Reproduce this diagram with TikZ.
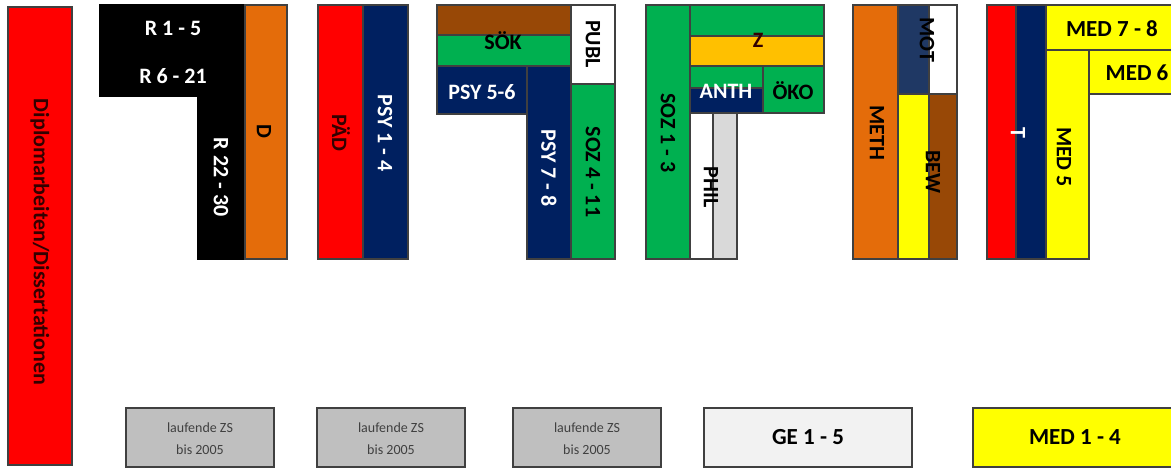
\documentclass[tikz,border=0pt]{standalone}
\usepackage{fontspec}
\setmainfont{Carlito}
\usetikzlibrary{positioning}

\definecolor{shelfred}{RGB}{255,0,0}
\definecolor{shelforange}{RGB}{228,108,10}
\definecolor{shelfnavy}{RGB}{0,32,96}
\definecolor{shelfslate}{RGB}{31,56,100}
\definecolor{shelfbrown}{RGB}{152,72,6}
\definecolor{shelfgreen}{RGB}{0,176,80}
\definecolor{shelfgold}{RGB}{255,192,0}
\definecolor{shelfyellow}{RGB}{255,255,0}
\definecolor{shelfgrey}{RGB}{217,217,217}
\definecolor{zsgrey}{RGB}{191,191,191}
\definecolor{gelight}{RGB}{242,242,242}
\definecolor{darkink}{RGB}{50,0,0}

\begin{document}
\begin{tikzpicture}[
    x=0.5pt, y=-0.5pt,
    % Styles
    shelf/.style={draw=black!75, line width=0.7pt},
    lbl/.style={font=\fontsize{11}{13}\selectfont\bfseries, text=black, inner sep=0pt},
    wlbl/.style={lbl, text=white},
    vert/.style={rotate=-90},
    medlbl/.style={lbl, font=\fontsize{11.5}{13}\selectfont\bfseries},
    zslbl/.style={font=\fontsize{7}{11}\selectfont, text=black!75, align=center, inner sep=0pt}
  ]
    \clip (0,0) rectangle (1171,469);

    % --- Diplomarbeiten ---
    \draw[shelf, fill=shelfred] (8,7) rectangle (72,465);
    \node (dipl) [lbl, vert, text=darkink] at (40,242) {Diplomarbeiten/Dissertationen};

    % --- R and D ---
    \draw[shelf, draw=black, fill=black] (100,5) -- (245,5) -- (245,259) -- (198,259)
        -- (198,96) -- (100,96) -- cycle;
    \draw[shelf, fill=shelforange] (245,5) rectangle (287,259);
    \node (r1) [wlbl] at (173,28) {R 1 - 5};
    \node (r6) [wlbl] at (173,76) {R 6 - 21};
    \node (r22) [wlbl, vert] at (221,177) {R 22 - 30};
    \node (d) [lbl, vert] at (264,131) {D};

    % --- PAED and PSY 1-4 ---
    \draw[shelf, fill=shelfred] (318,5) rectangle (363,259);
    \draw[shelf, fill=shelfnavy] (363,5) rectangle (408,259);
    \node (paed) [lbl, vert, text=darkink] at (341,133) {PÄD};
    \node (psy1) [wlbl, vert] at (385,133) {PSY 1 - 4};

    % --- SOEK, PUBL, PSY 5-8, SOZ 4-11 ---
    \draw[shelf, fill=shelfbrown] (437,5) rectangle (571,35);
    \draw[shelf, fill=shelfgreen] (437,35) rectangle (571,66);
    \draw[shelf, fill=white] (571,5) rectangle (615,84);
    \draw[shelf, fill=shelfnavy] (437,66) rectangle (527,114);
    \draw[shelf, fill=shelfnavy] (527,66) rectangle (571,259);
    \draw[shelf, fill=shelfgreen] (571,84) rectangle (615,259);
    \node (soek) [lbl] at (503,41) {SÖK};
    \node (publ) [lbl, vert] at (593,44) {PUBL};
    \node (psy5) [wlbl] at (482,92) {PSY 5-6};
    \node (psy7) [wlbl, vert] at (549,168) {PSY 7 - 8};
    \node (soz4) [lbl, vert] at (593,172) {SOZ 4 - 11};

    % --- SOZ 1-3, Z, ANTH, OEKO, PHIL ---
    \draw[shelf, fill=shelfgreen] (646,5) rectangle (690,259);
    \draw[shelf, fill=shelfgreen] (690,5) rectangle (824,36);
    \draw[shelf, fill=shelfgold] (690,36) rectangle (824,66);
    \draw[shelf, fill=shelfgreen] (690,66) rectangle (763,88);
    \draw[shelf, fill=shelfnavy] (690,88) rectangle (763,113);
    \draw[shelf, fill=shelfgreen] (763,66) rectangle (824,113);
    \draw[shelf, fill=white] (690,113) rectangle (713,259);
    \draw[shelf, fill=shelfgrey] (713,113) rectangle (737,259);
    \node (soz1) [lbl, vert] at (668,133) {SOZ 1 - 3};
    \node (z) [lbl, text=darkink] at (758,40) {Z};
    \node (anth) [wlbl] at (726,91) {ANTH};
    \node (oeko) [lbl] at (793,91) {ÖKO};
    \node (phil) [lbl, vert] at (711,187) {PHIL};

    % --- METH, MOT, BEW ---
    \draw[shelf, fill=shelforange] (853,5) rectangle (898,259);
    \draw[shelf, fill=shelfslate] (898,5) rectangle (929,94);
    \draw[shelf, fill=white] (929,5) rectangle (957,94);
    \draw[shelf, fill=shelfyellow] (898,94) rectangle (929,259);
    \draw[shelf, fill=shelfbrown] (929,94) rectangle (957,259);
    \node (meth) [lbl, vert] at (877,133) {METH};
    \node (mot) [lbl, vert] at (927,40) {MOT};
    \node (bew) [lbl, vert] at (933,172) {BEW};

    % --- T and MED 5-8 ---
    \draw[shelf, fill=shelfred] (987,5) rectangle (1016,259);
    \draw[shelf, fill=shelfnavy] (1016,5) rectangle (1046,259);
    \draw[shelf, fill=shelfyellow] (1046,5) rectangle (1180,50);
    \draw[shelf, fill=shelfyellow] (1089,50) rectangle (1180,94);
    \draw[shelf, fill=shelfyellow] (1046,50) rectangle (1089,259);
    \node (t) [wlbl, vert] at (1018,133) {T};
    \node (med7) [medlbl] at (1112,29) {MED 7 - 8};
    \node (med6) [medlbl] at (1137,73) {MED 6};
    \node (med5) [lbl, vert] at (1064,157) {MED 5};

    % --- Bottom row ---
    \foreach \xa/\name in {126/zsa, 317/zsb, 513/zsc} {
        \draw[shelf, fill=zsgrey] (\xa,408) rectangle ++(148,59);
        \node (\name) [zslbl] at (\xa+74,439) {laufende ZS\\bis 2005};
    }
    \draw[shelf, fill=gelight] (704,408) rectangle (912,467);
    \node (ge) [medlbl] at (808,437) {GE 1 - 5};
    \draw[shelf, fill=shelfyellow] (973,408) rectangle (1180,467);
    \node (med1) [medlbl] at (1075,437) {MED 1 - 4};

  \end{tikzpicture}
\end{document}
